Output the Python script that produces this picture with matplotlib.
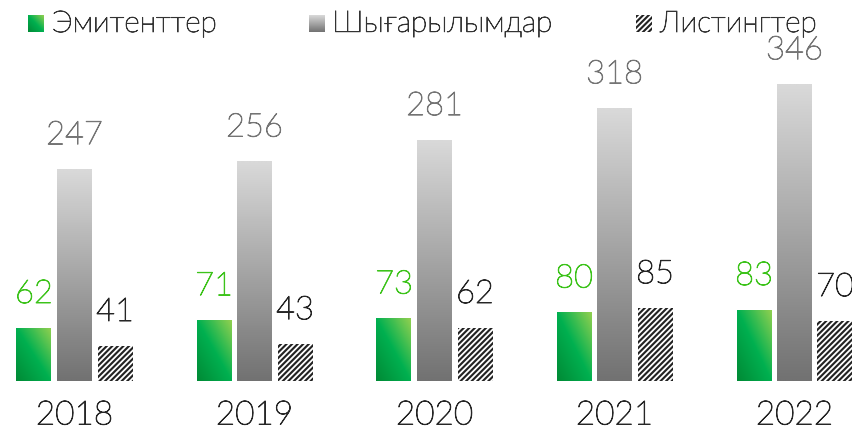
import numpy as np
import matplotlib
matplotlib.use("Agg")
import matplotlib.pyplot as plt
import matplotlib.patheffects as pe
from matplotlib.patches import Rectangle
from matplotlib.colors import LinearSegmentedColormap

years = ["2018", "2019", "2020", "2021", "2022"]
emitenter = [62, 71, 73, 80, 83]
shygarylymdar = [247, 256, 281, 318, 346]
listingter = [41, 43, 62, 85, 70]
series_names = ["Эмитенттер", "Шығарылымдар", "Листингтер"]

W, H = 852, 433
fig = plt.figure(figsize=(W / 100, H / 100), dpi=100)
ax = fig.add_axes([0, 52 / H, 1, 381 / H])
FONT = "Lato"
WEIGHT = "light"

def thick(col, lw=0.7):
    return [pe.withStroke(linewidth=lw, foreground=col)]

green_cmap = LinearSegmentedColormap.from_list("g", ["#008a35", "#00b050", "#92d050"])
gray_cmap = LinearSegmentedColormap.from_list("k", ["#727272", "#d9d9d9"])

x = np.arange(len(years))
bw = 35 / 180
off = 40.5 / 180

def grad_fill(ax, bar, cmap, diagonal, flip=False):
    x0, y0 = bar.get_x(), bar.get_y()
    w, h = bar.get_width(), bar.get_height()
    n = 64
    xx, yy = np.meshgrid(np.linspace(0, 1, n), np.linspace(0, 1, n))
    if flip:
        yy = 1 - yy
    z = (xx + yy) / 2 if diagonal else yy
    im = ax.imshow(z, cmap=cmap, extent=(x0, x0 + w, y0, y0 + h), origin="lower",
                   aspect="auto", zorder=2, vmin=0, vmax=1, interpolation="bilinear")
    im.set_clip_path(bar)

b1 = ax.bar(x - off, emitenter, bw, color="none", edgecolor="none", zorder=1)
b2 = ax.bar(x, shygarylymdar, bw, color="none", edgecolor="none", zorder=1)
plt.rcParams["hatch.linewidth"] = 1.3
b3 = ax.bar(x + off, listingter, bw, color="#222222", edgecolor="white", hatch="//////",
            linewidth=0, zorder=2)
for b in b1:
    grad_fill(ax, b, green_cmap, True)
for b in b2:
    grad_fill(ax, b, gray_cmap, False)

for bars, vals, col in [(b1, emitenter, "#3cc31a"), (b2, shygarylymdar, "#747474"),
                        (b3, listingter, "#262626")]:
    for b, v in zip(bars, vals):
        ax.text(b.get_x() + b.get_width() / 2, v + 22, str(v), ha="center", va="bottom",
                fontsize=23.5, color=col, family=FONT, fontweight=WEIGHT,
                path_effects=thick(col))

ax.set_xlim(-74.5 / 180, (W - 74.5) / 180)
ax.set_ylim(0, 381 / 0.858)
ax.set_xticks(x)
ax.set_xticklabels(years, fontsize=24, color="#262626", family=FONT, fontweight=WEIGHT)
for t in ax.get_xticklabels():
    t.set_path_effects(thick("#262626"))
ax.tick_params(axis="x", length=0, pad=14)
ax.set_yticks([])
for s in ax.spines.values():
    s.set_visible(False)
ax.patch.set_alpha(0)

# legend (overlay axes in pixel coordinates, y pointing down)
lax = fig.add_axes([0, 0, 1, 1], zorder=5)
lax.set_xlim(0, W)
lax.set_ylim(H, 0)
lax.axis("off")
sq_x = [28, 309, 636]
txt_x = [52, 332, 660]
sq = 16
ly = 15
for i, (name, px, tx) in enumerate(zip(series_names, sq_x, txt_x)):
    r = Rectangle((px, ly), sq, sq + 1, facecolor="none", edgecolor="none")
    lax.add_patch(r)
    if i == 0:
        grad_fill(lax, r, green_cmap, True, flip=True)
    elif i == 1:
        grad_fill(lax, r, gray_cmap, False, flip=True)
    else:
        r.set_facecolor("#222222")
        r.set_edgecolor("white")
        r.set_hatch("//////")
        r.set_linewidth(0)
    lax.text(tx, ly + sq / 2 + 1, name, ha="left", va="center", fontsize=21.5,
             color="#333333", family=FONT, fontweight=WEIGHT,
             path_effects=thick("#333333", 0.6))

fig.savefig("out.png", dpi=100)
